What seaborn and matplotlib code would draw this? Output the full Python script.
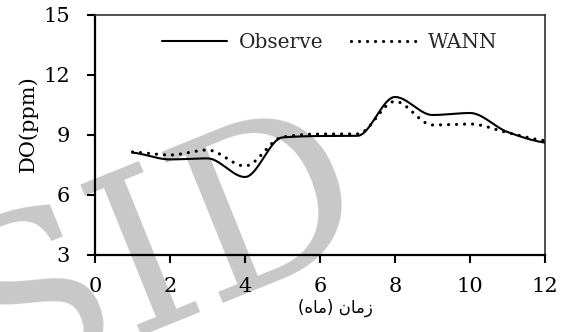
import numpy as np
import matplotlib
matplotlib.use("Agg")
import matplotlib.pyplot as plt
import seaborn as sns
from matplotlib.lines import Line2D

# ---- data ----
months = [1, 2, 3, 4, 5, 6, 7, 8, 9, 10, 11, 12]
observe = [8.12, 7.78, 7.83, 6.9, 8.88, 8.95, 8.96, 10.9, 10.0, 10.1, 9.15, 8.62]
wann = [8.15, 8.0, 8.25, 7.45, 8.9, 9.05, 9.05, 10.68, 9.5, 9.55, 9.12, 8.72]
xticks = [0, 2, 4, 6, 8, 10, 12]
yticks = [3, 6, 9, 12, 15]
ylabel = "DO(ppm)"
xlabel = "زمان (ماه)"
series_names = ["Observe", "WANN"]
watermark = "SID"


def smooth(xs, ys, n=40):
    """Smoothed line through the points (monotone cubic Hermite)."""
    x = np.asarray(xs, float)
    y = np.asarray(ys, float)
    h = np.diff(x)
    d = np.diff(y) / h
    m = np.zeros_like(y)
    for k in range(1, len(y) - 1):
        if d[k - 1] * d[k] > 0:
            m[k] = 2.0 / (1.0 / d[k - 1] + 1.0 / d[k])
    m[0] = d[0] * 0.5
    m[-1] = d[-1] * 0.5
    t = np.linspace(0, 1, n)
    ox, oy = [], []
    for i in range(len(x) - 1):
        h00 = 2 * t ** 3 - 3 * t ** 2 + 1
        h10 = t ** 3 - 2 * t ** 2 + t
        h01 = -2 * t ** 3 + 3 * t ** 2
        h11 = t ** 3 - t ** 2
        yy = h00 * y[i] + h10 * h[i] * m[i] + h01 * y[i + 1] + h11 * h[i] * m[i + 1]
        xx = x[i] + t * h[i]
        if i > 0:
            xx, yy = xx[1:], yy[1:]
        ox.append(xx)
        oy.append(yy)
    return np.concatenate(ox), np.concatenate(oy)


def shape_fa(s):
    # visual (left-to-right) Arabic presentation forms for the Persian label
    forms = {"زمان": "\uFEE5\uFE8E\uFEE3\uFEAF", "ماه": "\uFEE9\uFE8E\uFEE3"}
    return "(" + forms["ماه"] + ")" + " " + forms["زمان"]


sns.set_theme(style="white")
plt.rcParams["font.family"] = ["DejaVu Serif", "DejaVu Sans"]

W, H = 570, 332
fig = plt.figure(figsize=(W / 100, H / 100), dpi=100)
ax = fig.add_axes([95 / W, 1 - 255 / H, 450 / W, 240 / H])
ax.set_facecolor("none")

# watermark (behind lines and labels)
ax.text(182 / W, 1 - 312 / H, watermark, transform=fig.transFigure,
        fontsize=160, color="#c8c8c8", rotation=22, rotation_mode="anchor",
        ha="center", va="baseline", family=["DejaVu Serif"], zorder=0.5,
        clip_on=False)

dots = (0, (0.01, 2.5))
ox, oy = smooth(months, observe)
wx, wy = smooth(months, wann)
sns.lineplot(x=ox, y=oy, ax=ax, color="black", linewidth=1.5, sort=False,
             estimator=None, legend=False, zorder=3)
sns.lineplot(x=wx, y=wy, ax=ax, color="black", linewidth=2.3, sort=False,
             estimator=None, legend=False, linestyle=dots,
             dash_capstyle="round", zorder=3)

ax.set_xlim(0, 12)
ax.set_ylim(3, 15)
ax.set_xticks(xticks)
ax.set_yticks(yticks)
ax.set_xticklabels([str(v) for v in xticks])
ax.set_yticklabels([str(v) for v in yticks])
ax.tick_params(axis="both", direction="out", length=6, width=1.5, color="black",
               labelsize=15, labelcolor="black", bottom=True, left=True)
ax.tick_params(axis="x", pad=10)
ax.tick_params(axis="y", pad=12)
for s in ["left", "bottom"]:
    ax.spines[s].set_color("black")
    ax.spines[s].set_linewidth(1.6)
for s in ["top", "right"]:
    ax.spines[s].set_color("#333333")
    ax.spines[s].set_linewidth(1.2)
ax.set_ylabel(ylabel, fontsize=15, color="black")
ax.yaxis.set_label_coords(-0.128, 0.546)
ax.set_xlabel("")
fig.text(335 / W, 1 - 308 / H, shape_fa(xlabel), fontsize=12, color="black",
         ha="center", va="center", family=["DejaVu Sans"])

handles = [Line2D([], [], color="black", linewidth=1.5),
           Line2D([], [], color="black", linewidth=2.3, linestyle=dots,
                  dash_capstyle="round")]
ax.legend(handles, series_names, loc="upper center", bbox_to_anchor=(0.522, 1.0),
          ncol=2, frameon=False, fontsize=14.5, handlelength=3.2,
          columnspacing=1.4, handletextpad=0.6, borderaxespad=0.5)

fig.savefig("out.png", dpi=100, facecolor="white")
